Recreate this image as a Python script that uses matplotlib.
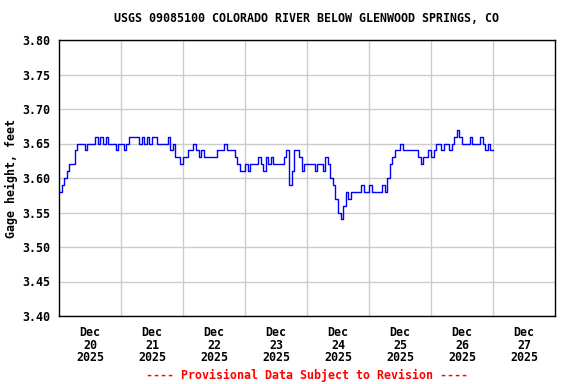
import numpy as np
import pandas as pd
import matplotlib
matplotlib.use("Agg")
import matplotlib.pyplot as plt
import matplotlib.dates as mdates

# hourly gage height readings (feet)
dec20 = [3.58, 3.59, 3.60, 3.61, 3.62, 3.62, 3.64, 3.65, 3.65, 3.65, 3.64, 3.65,
         3.65, 3.65, 3.66, 3.65, 3.66, 3.65, 3.66, 3.65, 3.65, 3.65, 3.64, 3.65]
dec21 = [3.65, 3.64, 3.65, 3.66, 3.66, 3.66, 3.66, 3.65, 3.66, 3.65, 3.66, 3.65,
         3.66, 3.66, 3.65, 3.65, 3.65, 3.65, 3.66, 3.64, 3.65, 3.63, 3.63, 3.62]
dec22 = [3.63, 3.63, 3.64, 3.64, 3.65, 3.64, 3.63, 3.64, 3.63, 3.63, 3.63, 3.63,
         3.63, 3.64, 3.64, 3.64, 3.65, 3.64, 3.64, 3.64, 3.63, 3.62, 3.61, 3.61]
dec23 = [3.62, 3.61, 3.62, 3.62, 3.62, 3.63, 3.62, 3.61, 3.63, 3.62, 3.63, 3.62,
         3.62, 3.62, 3.62, 3.63, 3.64, 3.59, 3.61, 3.64, 3.64, 3.63, 3.61, 3.62]
dec24 = [3.62, 3.62, 3.62, 3.61, 3.62, 3.62, 3.61, 3.63, 3.62, 3.60, 3.59, 3.57,
         3.55, 3.54, 3.56, 3.58, 3.57, 3.58, 3.58, 3.58, 3.58, 3.59, 3.58, 3.58]
dec25 = [3.59, 3.58, 3.58, 3.58, 3.58, 3.59, 3.58, 3.60, 3.62, 3.63, 3.64, 3.64,
         3.65, 3.64, 3.64, 3.64, 3.64, 3.64, 3.64, 3.63, 3.62, 3.63, 3.63, 3.64]
dec26 = [3.63, 3.64, 3.65, 3.65, 3.64, 3.65, 3.65, 3.64, 3.65, 3.66, 3.67, 3.66,
         3.65, 3.65, 3.65, 3.66, 3.65, 3.65, 3.65, 3.66, 3.65, 3.64, 3.65, 3.64]

day_labels = ["Dec\n20\n2025", "Dec\n21\n2025", "Dec\n22\n2025", "Dec\n23\n2025",
              "Dec\n24\n2025", "Dec\n25\n2025", "Dec\n26\n2025", "Dec\n27\n2025"]
y_ticks = [3.40, 3.45, 3.50, 3.55, 3.60, 3.65, 3.70, 3.75, 3.80]

title = "USGS 09085100 COLORADO RIVER BELOW GLENWOOD SPRINGS, CO"

values = dec20 + dec21 + dec22 + dec23 + dec24 + dec25 + dec26
values = values + [values[-1]]
times = pd.date_range("2025-12-20 00:00", periods=len(values), freq="h")

mono = "DejaVu Sans Mono"
fs = 8.4

fig = plt.figure(figsize=(5.76, 3.84), dpi=100)
ax = fig.add_axes([59 / 576, 68 / 384, 496 / 576, 276 / 384])

ax.plot(times, values, drawstyle="steps-post", color="#0000ff", linewidth=1.0)

start = pd.Timestamp("2025-12-20")
ax.set_xlim(start, start + pd.Timedelta(days=8))
ax.set_ylim(3.40, 3.80)

# gridlines at midnight, labels at noon
midnights = [start + pd.Timedelta(days=i) for i in range(1, 8)]
noons = [start + pd.Timedelta(days=i, hours=12) for i in range(8)]
ax.set_xticks(midnights)
ax.set_xticklabels([])
ax.set_xticks(noons, minor=True)
ax.set_xticklabels(day_labels, minor=True, fontfamily=mono, fontweight="bold",
                   fontsize=fs, linespacing=0.98)
ax.set_yticks(y_ticks)
ax.set_yticklabels([f"{v:.2f}" for v in y_ticks], fontfamily=mono,
                   fontweight="bold", fontsize=fs)
ax.tick_params(axis="both", which="both", length=0)
ax.tick_params(axis="x", which="minor", pad=7)
ax.tick_params(axis="y", pad=6)

ax.grid(True, which="major", color="#cccccc", linewidth=1.0)
ax.set_axisbelow(True)
for s in ax.spines.values():
    s.set_color("black")
    s.set_linewidth(1.0)

ax.set_ylabel("Gage height, feet", fontfamily=mono, fontweight="bold",
              fontsize=fs)
ax.yaxis.set_label_coords((18 - 59) / 496, 0.5)

fig.text(307 / 576, 1 - 19 / 384, title, ha="center", va="center",
         fontfamily=mono, fontweight="bold", fontsize=fs)
fig.text(307 / 576, 1 - 375 / 384, "---- Provisional Data Subject to Revision ----",
         ha="center", va="center", color="red", fontfamily=mono,
         fontweight="bold", fontsize=fs)

fig.savefig("out.png", dpi=100)
